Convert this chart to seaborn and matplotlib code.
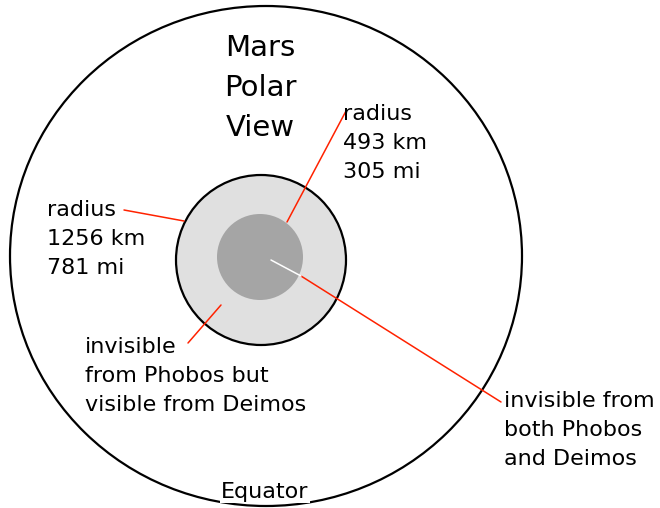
"""Mars polar view: regions invisible from Phobos and Deimos"""

import matplotlib.pyplot as plt
from matplotlib.patches import Ellipse, Circle
import seaborn as sns

# Geometry of the diagram (pixel units, y grows downward)
outer_center = (266, 256)
outer_size = (512, 500)
phobos_center = (261, 260)
phobos_radius = 85
deimos_center = (260, 257)
deimos_radius = 43

# Text blocks
title_lines = ['Mars', 'Polar', 'View']
inner_label = ['radius', '493 km', '305 mi']
outer_label = ['radius', '1256 km', '781 mi']
ring_label = ['invisible', 'from Phobos but', 'visible from Deimos']
core_label = ['invisible from', 'both Phobos', 'and Deimos']

# Leader lines
inner_leader = ([346, 287], [111, 222])
outer_leader = ([124, 184], [210, 221])
ring_leader = ([188, 221], [343, 305])
core_white = ([271, 301], [260, 276])
core_leader = ([301, 501], [276, 402])

RED = '#ff2200'

sns.set_theme(style='white')
plt.rcParams['font.family'] = ['DejaVu Sans']

fig = plt.figure(figsize=(6.6, 5.08), dpi=100)
ax = fig.add_axes([0, 0, 1, 1])
ax.set_xlim(0, 660)
ax.set_ylim(508, 0)
ax.axis('off')

# Mars disc and the two shaded zones
ax.add_patch(Ellipse(outer_center, *outer_size, fill=False, ec='black', lw=1.6))
ax.add_patch(Circle(phobos_center, phobos_radius, fc='#e0e0e0', ec='black', lw=1.6))
ax.add_patch(Circle(deimos_center, deimos_radius, fc='#a5a5a5', ec='none'))

# Leader lines
for xs, ys in [inner_leader, outer_leader, ring_leader, core_leader]:
    ax.plot(xs, ys, color=RED, lw=1.1)
ax.plot(*core_white, color='white', lw=1.1)


def text_block(x, y0, lines, step, size, ha='left', bg=False):
    for i, line in enumerate(lines):
        t = ax.text(x, y0 + i * step, line, fontsize=size, ha=ha,
                    va='baseline', color='black')
        if bg:
            t.set_bbox(dict(fc='white', ec='none', pad=1))


text_block(260, 56, title_lines, 40, 21, ha='center')
text_block(343, 120, inner_label, 29, 16)
text_block(47, 216, outer_label, 29, 16)
text_block(85, 353, ring_label, 29, 16)
text_block(504, 407, core_label, 29, 16)
text_block(265, 498, ['Equator'], 0, 16, ha='center', bg=True)

fig.savefig('out.png', dpi=100)
